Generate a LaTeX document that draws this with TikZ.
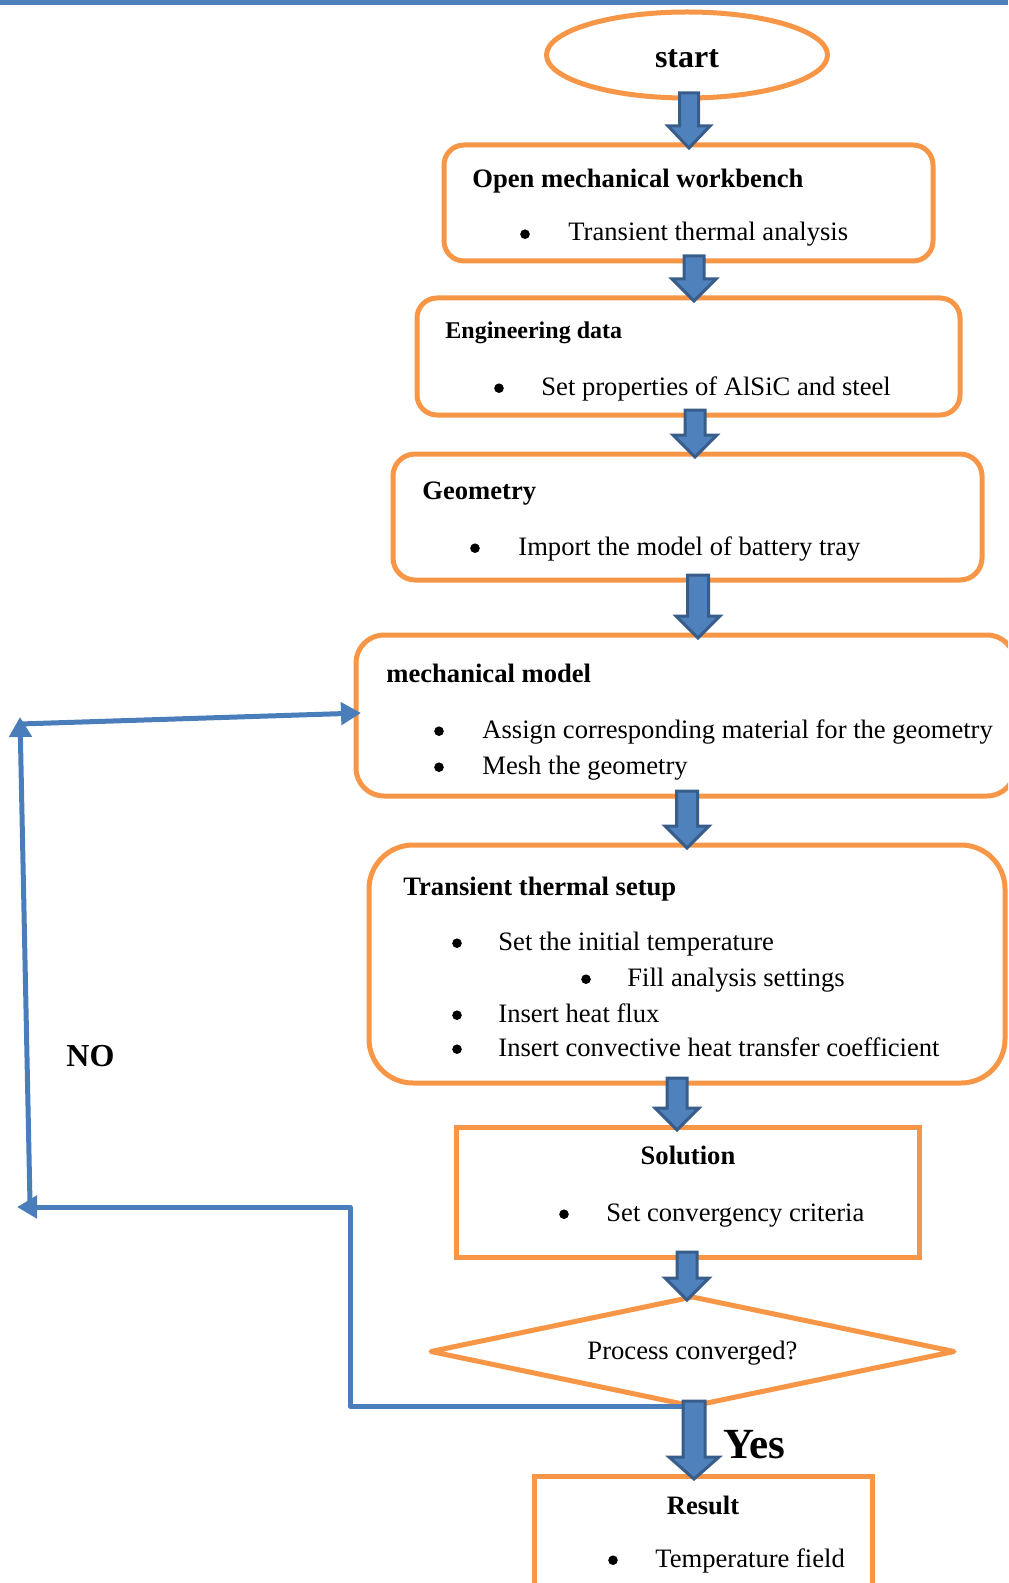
\documentclass[tikz,border=0pt]{standalone}
\usepackage{fontspec}
\setmainfont{Liberation Serif}
\usetikzlibrary{shapes.geometric,arrows.meta,calc}
\definecolor{boxorange}{HTML}{F79646}
\definecolor{arrowfill}{HTML}{4F81BD}
\definecolor{arrowedge}{HTML}{385D8A}
\definecolor{loopblue}{HTML}{4A7EBB}
% thick downward block arrow between two nodes
% #1 column coordinate, #2 upper node, #3 lower node, #4 shaft half width, #5 head half width
\newcommand\blockarr[5]{%
  \path[blockarrow] let \p1=(#1 |- #2.south), \p2=(#1 |- #3.north) in
    (\x1-#4,\y1+2.5pt) -- (\x1+#4,\y1+2.5pt) -- (\x1+#4,\y2+9.5pt) -- (\x1+#5,\y2+9.5pt)
    -- (\x1,\y2-1.5pt) -- (\x1-#5,\y2+9.5pt) -- (\x1-#4,\y2+9.5pt) -- cycle;}
\begin{document}
\begin{tikzpicture}[x=0.5pt,y=-0.5pt,
  obox/.style={draw=boxorange,line width=2.5pt,rectangle,anchor=north west,inner sep=0pt,outer sep=0pt},
  txt/.style={anchor=base west,inner sep=0pt,yshift=-1pt,font=\fontsize{13.3}{16}\selectfont},
  ttl/.style={anchor=base west,inner sep=0pt,yshift=-1pt,font=\fontsize{13.3}{16}\selectfont\bfseries},
  ctl/.style={anchor=base,inner sep=0pt,yshift=-1pt,font=\fontsize{13.3}{16}\selectfont\bfseries},
  bul/.style={circle,fill=black,inner sep=0pt,minimum size=4.8pt,yshift=2.4pt},
  blockarrow/.style={fill=arrowfill,draw=arrowedge,line width=1.5pt,line join=miter},
  loopline/.style={draw=loopblue,line width=2.5pt,line join=round,-{Triangle[width=11pt,length=10pt]}}]
\useasboundingbox (0,0) rectangle (1008,1583);
\clip (0,0) rectangle (1008,1583);

% rule along the top edge
\fill[arrowfill] (0,0) rectangle (1008,5);

% start
\node[draw=boxorange,line width=2.5pt,ellipse,inner sep=0pt,outer sep=0pt,
      minimum width=140.5pt,minimum height=43pt] (start) at (687,55) {};
\node[inner sep=0pt,font=\fontsize{16}{19}\selectfont\bfseries] (st) at ($(start.center)+(0,4)$) {start};

% process boxes
\node[obox,rounded corners=10pt,minimum width=244.5pt,minimum height=58pt] (b1) at (444,145) {};
\node[obox,rounded corners=10pt,minimum width=271.5pt,minimum height=58.5pt] (b2) at (417,298) {};
\node[obox,rounded corners=11pt,minimum width=294.5pt,minimum height=63pt] (b3) at (393,454) {};
\node[obox,rounded corners=14pt,minimum width=329.5pt,minimum height=80.5pt] (b4) at (356,635) {};
\node[obox,rounded corners=22pt,minimum width=318pt,minimum height=119pt] (b5) at (369,845) {};
\node[obox,minimum width=231.5pt,minimum height=65pt] (b6) at (456,1127) {};

% decision: a frame node whose side midpoints carry the diamond
\node[rectangle,inner sep=0pt,outer sep=0pt,minimum width=261.5pt,minimum height=54.5pt] (d) at (692.5,1351.5) {};
\draw[draw=boxorange,line width=2.5pt,line join=round] (d.north) -- (d.east) -- (d.south) -- (d.west) -- cycle;
\node[inner sep=0pt,font=\fontsize{13.3}{16}\selectfont] (dq) at ($(d.center)+(0,2)$) {Process converged?};

\node[obox,minimum width=169pt,minimum height=72pt] (b7) at (534,1476) {};

% texts
\node[ttl] (t1) at (472,186) {Open mechanical workbench};
\node[bul] (u1) at (525,239) {};
\node[txt] (s1) at (568,239) {Transient thermal analysis};

\node[anchor=base west,inner sep=0pt,yshift=-1pt,font=\fontsize{12}{14}\selectfont\bfseries] (t2) at (445,337) {Engineering data};
\node[bul] (u2) at (499,393) {};
\node[txt] (s2) at (541,393) {Set properties of AlSiC and steel};

\node[ttl] (t3) at (422,497) {Geometry};
\node[bul] (u3) at (475,553) {};
\node[txt] (s3) at (518,553) {Import the model of battery tray};

\node[ttl] (t4) at (386,680) {mechanical model};
\node[bul] (u4a) at (439,736) {};
\node[txt] (s4a) at (482,736) {Assign corresponding material for the geometry};
\node[bul] (u4b) at (439,772) {};
\node[txt] (s4b) at (482,772) {Mesh the geometry};

\node[ttl] (t5) at (403,893) {Transient thermal setup};
\node[bul] (u5a) at (457,948) {};
\node[txt] (s5a) at (498,948) {Set the initial temperature};
\node[bul] (u5b) at (586,984) {};
\node[txt] (s5b) at (627,984) {Fill analysis settings};
\node[bul] (u5c) at (457,1020) {};
\node[txt] (s5c) at (498,1020) {Insert heat flux};
\node[bul] (u5d) at (457,1054) {};
\node[txt] (s5d) at (498,1054) {Insert convective heat transfer coefficient};

\node[ctl] (t6) at (688,1162) {Solution};
\node[bul] (u6) at (564,1219) {};
\node[txt] (s6) at (606,1219) {Set convergency criteria};

\node[ctl] (t7) at (703,1512) {Result};
\node[bul] (u7) at (613,1565) {};
\node[txt] (s7) at (655,1565) {Temperature field};

\node[anchor=base west,inner sep=0pt,font=\fontsize{21.5}{24}\selectfont\bfseries] (yes) at (723,1458) {Yes};
\node[anchor=base west,inner sep=0pt,font=\fontsize{16}{19}\selectfont\bfseries] (no) at (66,1066) {NO};

% feedback loop for the "no" branch
\coordinate (lc1) at (350,1207);
\coordinate (lc2) at (17,1207);
\coordinate (lc3) at (30,1203);
\coordinate (lc4) at (20,717);
\coordinate (lc5) at (20,724);
\draw[loopline] (d.south) -| (lc1) -- (lc2);
\draw[loopline] (lc3) -- (lc4);
\draw[loopline] (lc5) -- ($(b4.west)+(5,-2.5)$);

% columns of the block arrows
\coordinate (col1) at (689,0);
\coordinate (col2) at (694,0);
\coordinate (col3) at (695,0);
\coordinate (col4) at (698,0);
\coordinate (col5) at (687,0);
\coordinate (col6) at (677,0);
\coordinate (col7) at (687,0);
\coordinate (col8) at (694,0);
\blockarr{col1}{start}{b1}{4.75pt}{10.5pt}
\blockarr{col2}{b1}{b2}{5pt}{11pt}
\blockarr{col3}{b2}{b3}{5pt}{11pt}
\blockarr{col4}{b3}{b4}{5.25pt}{11pt}
\blockarr{col5}{b4}{b5}{5.25pt}{11pt}
\blockarr{col6}{b5}{b6}{5pt}{11pt}
\blockarr{col7}{b6}{d}{5pt}{11pt}
\blockarr{col8}{d}{b7}{5.5pt}{12.5pt}
\end{tikzpicture}
\end{document}
